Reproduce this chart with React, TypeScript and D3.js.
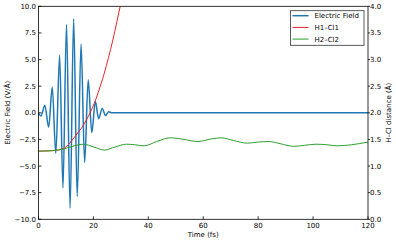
import * as d3 from "d3";
import * as React from "react";

// electric field extrema (time fs, V/Å)
const fieldTime = [0, 0.9, 2.3, 3.7, 5.0, 6.3, 7.7, 8.9, 10.2, 11.5, 12.8, 14.1, 15.5, 16.8, 18.1, 19.4, 20.7, 21.9, 23.2, 24.4, 25.6, 26.6, 40, 60, 80, 100, 120];
const fieldValue = [0, -0.3, 0.72, -1.35, 2.4, -3.8, 5.4, -7.05, 8.3, -8.95, 8.8, -7.85, 6.45, -4.66, 3.1, -1.85, 1.06, -0.55, 0.4, -0.25, 0.1, 0, 0, 0, 0, 0, 0];

// H1-Cl1 distance (Å)
const h1Time = [0, 4, 7, 9, 10.5, 12, 13.5, 15, 16.5, 18, 19.5, 21, 22.5, 24, 25.5, 27, 28.5, 30, 31.5];
const h1Dist = [1.28, 1.285, 1.3, 1.33, 1.38, 1.47, 1.57, 1.67, 1.78, 1.92, 2.08, 2.27, 2.5, 2.75, 3.04, 3.35, 3.7, 4.06, 4.45];

// H2-Cl2 distance (Å)
const h2Time = [0, 5, 9, 13, 16.3, 20, 24, 28, 32, 35, 38.5, 43, 48, 53, 58, 63, 66.5, 71, 76, 80, 84, 88, 93, 97, 101, 105, 109, 114, 120];
const h2Dist = [1.28, 1.29, 1.32, 1.38, 1.41, 1.36, 1.3, 1.36, 1.41, 1.4, 1.38, 1.46, 1.53, 1.5, 1.46, 1.51, 1.53, 1.48, 1.43, 1.45, 1.46, 1.42, 1.37, 1.39, 1.41, 1.4, 1.38, 1.4, 1.45];

const xTicks = [0, 20, 40, 60, 80, 100, 120];
const leftTicks = [-10, -7.5, -5, -2.5, 0, 2.5, 5, 7.5, 10];
const rightTicks = [0, 0.5, 1, 1.5, 2, 2.5, 3, 3.5, 4];

const legendItems = [
  { label: "Electric Field", color: "#1f77b4" },
  { label: "H1\u2013Cl1", color: "#e8262a" },
  { label: "H2\u2013Cl2", color: "#2ca02c" },
];

const W = 396;
const H = 242;
const margin = { top: 6.3, right: 28, bottom: 22.7, left: 38.5 };
const font = "DejaVu Sans, sans-serif";

export default function App() {
  const x = d3.scaleLinear().domain([0, 120]).range([margin.left, W - margin.right]);
  const yL = d3.scaleLinear().domain([-10, 10]).range([H - margin.bottom, margin.top]);
  const yR = d3.scaleLinear().domain([0, 4]).range([H - margin.bottom, margin.top]);
  const fmt = d3.format(".1f");

  const fieldLine = d3.line<number>()
    .x((_, i) => x(fieldTime[i]))
    .y(d => yL(d))
    .curve(d3.curveMonotoneX);
  const distLine = (times: number[]) => d3.line<number>()
    .x((_, i) => x(times[i]))
    .y(d => yR(d))
    .curve(d3.curveMonotoneX);

  const [x0, x1] = x.range();
  const [yb, yt] = yL.range();
  const legX = 290.5, legY = 10.7;

  return (
    <div style={{ position: "absolute", left: 0, top: 0 }}>
      <svg width={W} height={H} style={{ display: "block", background: "white" }} fontFamily={font}>
        <defs>
          <clipPath id="plot">
            <rect x={x0} y={yt} width={x1 - x0} height={yb - yt} />
          </clipPath>
        </defs>

        <g clipPath="url(#plot)" fill="none">
          <path d={fieldLine(fieldValue) || ""} stroke="#1f77b4" strokeWidth={1.5} />
          <path d={distLine(h1Time)(h1Dist) || ""} stroke="#e8262a" strokeWidth={1} />
          <path d={distLine(h2Time)(h2Dist) || ""} stroke="#2ca02c" strokeWidth={1} />
        </g>

        {/* frame */}
        <rect x={x0} y={yt} width={x1 - x0} height={yb - yt} fill="none" stroke="black" strokeWidth={0.8} />

        {/* bottom axis, inward ticks */}
        {xTicks.map(t => (
          <g key={"x" + t}>
            <line x1={x(t)} x2={x(t)} y1={yb} y2={yb - 3} stroke="black" strokeWidth={0.8} />
            <text x={x(t)} y={yb + 8.5} fontSize={7} textAnchor="middle">{t}</text>
          </g>
        ))}

        {/* left axis, inward ticks */}
        {leftTicks.map(t => (
          <g key={"l" + t}>
            <line x1={x0} x2={x0 + 3} y1={yL(t)} y2={yL(t)} stroke="black" strokeWidth={0.8} />
            <text x={x0 - 2.5} y={yL(t) + 2.5} fontSize={7} textAnchor="end">{fmt(t)}</text>
          </g>
        ))}

        {/* right axis, outward ticks */}
        {rightTicks.map(t => (
          <g key={"r" + t}>
            <line x1={x1} x2={x1 + 2} y1={yR(t)} y2={yR(t)} stroke="black" strokeWidth={0.8} />
            <text x={x1 + 2} y={yR(t) + 2.5} fontSize={7} textAnchor="start">{fmt(t)}</text>
          </g>
        ))}

        <text x={(x0 + x1) / 2} y={236.5} fontSize={7} textAnchor="middle">Time (fs)</text>
        <text transform={`translate(10,${(yt + yb) / 2}) rotate(-90)`} fontSize={7} textAnchor="middle">Electric Field (V/Å)</text>
        <text transform={`translate(391,${(yt + yb) / 2}) rotate(-90)`} fontSize={7} textAnchor="middle">H–Cl distance (Å)</text>

        {/* legend */}
        <rect x={legX} y={legY} width={73.5} height={34.6} fill="white" stroke="#333" strokeWidth={0.8} />
        {legendItems.map((d, i) => (
          <g key={d.label} transform={`translate(${legX},${legY + 5 + i * 11.7})`}>
            <line x1={2} x2={18} y1={0} y2={0} stroke={d.color} strokeWidth={d.label === "Electric Field" ? 1.5 : 1} />
            <text x={24} y={2.5} fontSize={7}>{d.label}</text>
          </g>
        ))}
      </svg>
    </div>
  );
}
